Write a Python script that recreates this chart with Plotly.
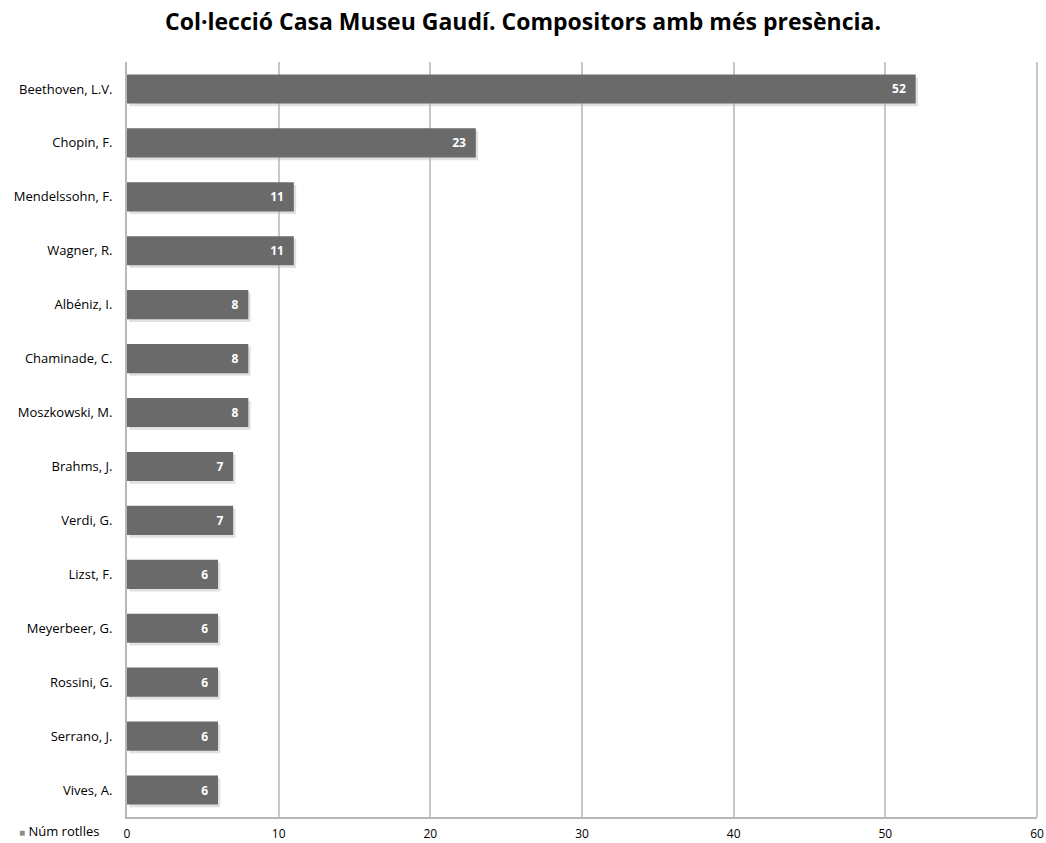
import plotly.graph_objects as go

composers = ["Beethoven, L.V.", "Chopin, F.", "Mendelssohn, F.", "Wagner, R.",
             "Albéniz, I.", "Chaminade, C.", "Moszkowski, M.", "Brahms, J.",
             "Verdi, G.", "Lizst, F.", "Meyerbeer, G.", "Rossini, G.",
             "Serrano, J.", "Vives, A."]
rolls = [52, 23, 11, 11, 8, 8, 8, 7, 7, 6, 6, 6, 6, 6]
x_ticks = [0, 10, 20, 30, 40, 50, 60]
series_name = "Núm rotlles"

font_family = "Open Sans, Liberation Sans, sans-serif"
bar_width = 0.54

fig = go.Figure()

# soft drop shadow behind each bar
fig.add_trace(go.Bar(
    x=rolls,
    y=composers,
    orientation="h",
    base=0.15,
    marker=dict(color="rgba(170,170,170,0.35)", line=dict(width=0)),
    width=bar_width,
    offset=-bar_width / 2 + 0.05,
    showlegend=False,
    hoverinfo="skip",
))

fig.add_trace(go.Bar(
    x=rolls,
    y=composers,
    orientation="h",
    name=series_name,
    marker=dict(color="#6a6a6a", line=dict(width=0)),
    width=bar_width,
    offset=-bar_width / 2,
    text=[f"<b>{v}</b>\u2007" for v in rolls],
    textposition="inside",
    insidetextanchor="end",
    textfont=dict(color="white", size=12, family=font_family),
    showlegend=False,
))

# right-hand frame line of the plot area
fig.add_shape(type="line", xref="paper", yref="paper",
              x0=1, x1=1, y0=0, y1=1,
              line=dict(color="#c8c8c8", width=2))

# compact legend entry in the lower-left corner
fig.add_annotation(
    xref="paper", yref="paper", x=-0.121, y=-0.018,
    xanchor="left", yanchor="middle", showarrow=False,
    text=f"<span style='color:#8c8c8c;font-size:10px'>■</span> {series_name}",
    font=dict(family=font_family, size=13, color="black"),
)

fig.update_layout(
    width=1046, height=843,
    margin=dict(l=127, r=9, t=62, b=26, autoexpand=False),
    paper_bgcolor="white",
    plot_bgcolor="white",
    barmode="overlay",
    title=dict(
        text="<b>Col·lecció Casa Museu Gaudí. Compositors amb més presència.</b>",
        x=0.5, xanchor="center", y=0.974, yanchor="middle",
        font=dict(family=font_family, size=23, color="black"),
    ),
    xaxis=dict(
        range=[0, 60],
        tickvals=x_ticks,
        showgrid=True, gridcolor="#c8c8c8", gridwidth=2,
        zeroline=False,
        showline=True, linecolor="#b8b8b8", linewidth=2,
        ticks="", ticklabelstandoff=5,
        tickfont=dict(family=font_family, size=12, color="black"),
    ),
    yaxis=dict(
        autorange="reversed",
        showline=True, linecolor="#b8b8b8", linewidth=2,
        ticks="", ticklabelstandoff=10,
        tickfont=dict(family=font_family, size=13, color="black"),
    ),
    showlegend=False,
)

fig.write_html("out.html")
